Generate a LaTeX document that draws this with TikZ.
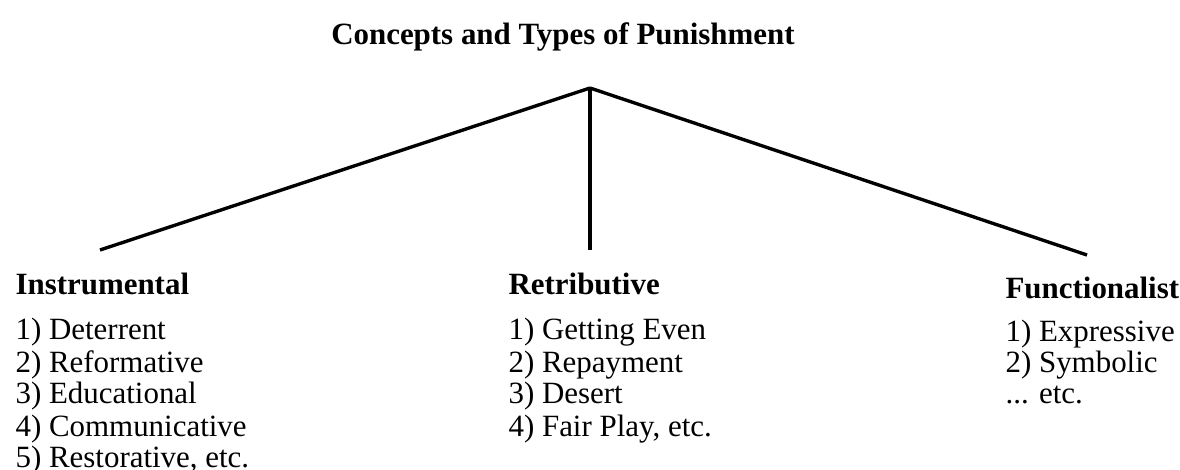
\documentclass[tikz,border=0pt]{standalone}
\usepackage{fontspec}
\setmainfont{Liberation Serif}
\usepackage{tikz}
\usetikzlibrary{positioning,calc}

\tikzset{
  head/.style={anchor=base west,inner sep=0pt,font=\fontsize{11}{13}\selectfont\bfseries},
  item/.style={anchor=base west,inner sep=0pt,font=\fontsize{11}{13}\selectfont},
  branch/.style={line width=1.2pt}
}

\begin{document}
\begin{tikzpicture}[x=0.125mm,y=-0.125mm]
    \useasboundingbox (0,0) rectangle (1180,470);
    \node[head,anchor=base] (title) at (563,45) {Concepts and Types of Punishment};
    \coordinate (top) at (590,88);
    \coordinate (L) at (100,250);
    \coordinate (M) at (590,250);
    \coordinate (R) at (1087,255);
    % left column
    \node[head] (instr) at (15,295) {Instrumental};
    \node[item] (i1) at (15,340) {1) Deterrent};
    \node[item] (i2) at (15,372) {2) Reformative};
    \node[item] (i3) at (15,404) {3) Educational};
    \node[item] (i4) at (15,436) {4) Communicative};
    \node[item] (i5) at (15,467) {5) Restorative, etc.};
    % middle column
    \node[head] (retr) at (508,295) {Retributive};
    \node[item] (r1) at (508,340) {1) Getting Even};
    \node[item] (r2) at (508,372) {2) Repayment};
    \node[item] (r3) at (508,404) {3) Desert};
    \node[item] (r4) at (508,436) {4) Fair Play, etc.};
    % right column
    \node[head] (func) at (1005,299) {Functionalist};
    \node[item] (f1) at (1005,342) {1) Expressive};
    \node[item] (f2) at (1005,373) {2) Symbolic};
    \node[item] (f3) at (1005,404) {... etc.};
    \path [branch](top) edge node {} (L);
    \path [branch](top) edge node {} (M);
    \path [branch](top) edge node {} (R);
\end{tikzpicture}
\end{document}
